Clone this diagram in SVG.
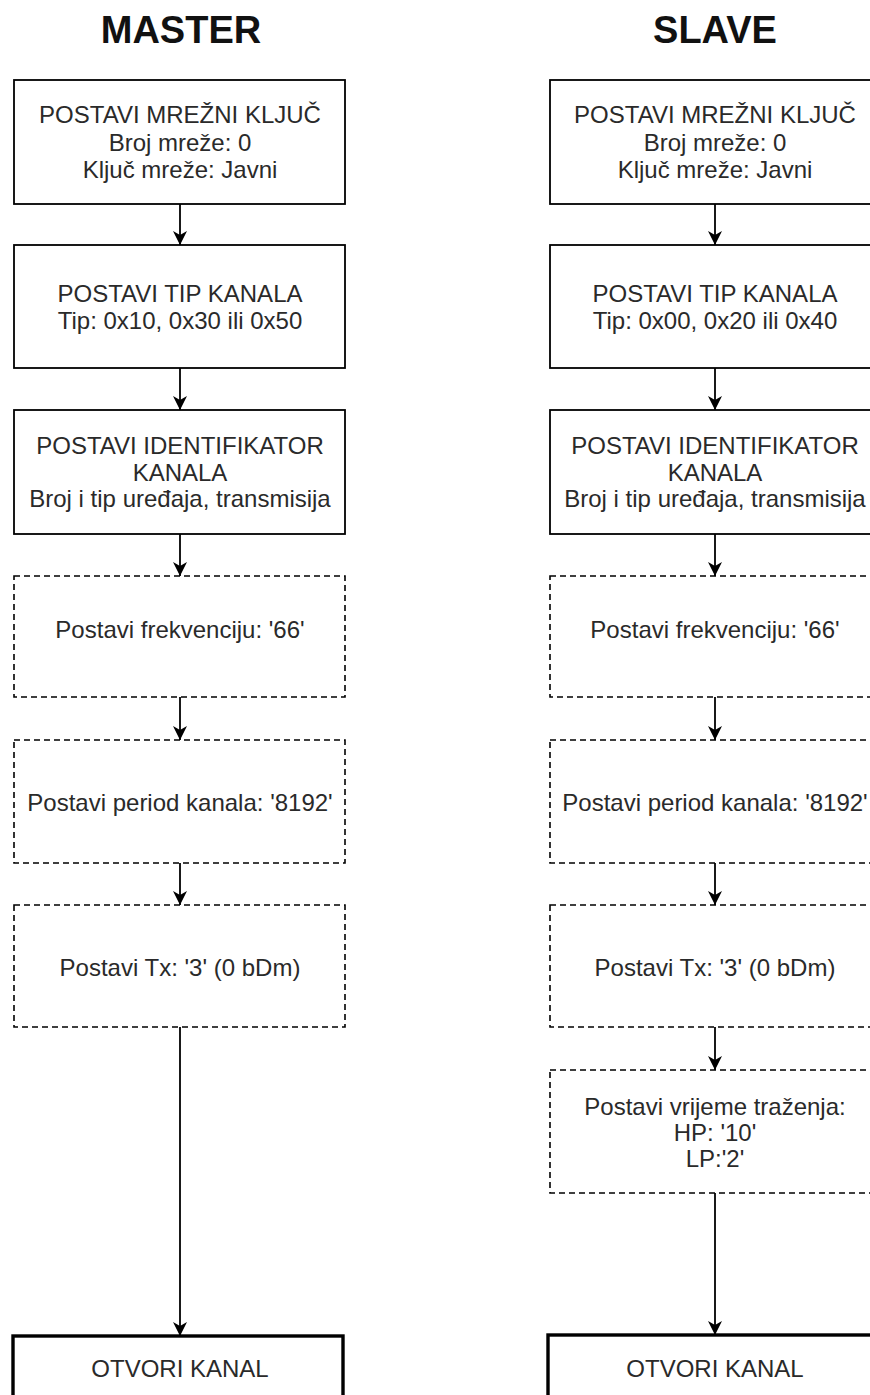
<svg xmlns="http://www.w3.org/2000/svg" width="870" height="1395" viewBox="0 0 870 1395">
<defs>
<marker id="arr" markerUnits="userSpaceOnUse" markerWidth="16" markerHeight="16" viewBox="0 -8 16 16" refX="14" refY="0" orient="auto">
<path d="M0,-7 L14,0 L0,7 L4,0 Z" fill="#000"/>
</marker>
</defs>
<style>
.title{font-family:"Liberation Sans",Arial,sans-serif;font-weight:bold;font-size:38px;fill:#111;text-anchor:middle}
.t{font-family:"Liberation Sans",Arial,sans-serif;font-size:24px;fill:#2a2a2a;text-anchor:middle}
.box{fill:#fff;stroke:#000;stroke-width:1.8}
.dash{fill:#fff;stroke:#000;stroke-width:1.6;stroke-dasharray:6 4}
.thick{fill:#fff;stroke:#000;stroke-width:3.4}
.c{fill:none;stroke:#000;stroke-width:1.8;marker-end:url(#arr)}
</style>
<rect width="870" height="1395" fill="#fff"/>
<text class="title" x="181" y="43">MASTER</text>
<text class="title" x="715" y="43">SLAVE</text>
<g id="connectors">
<line class="c" x1="180" y1="204" x2="180" y2="245"/>
<line class="c" x1="180" y1="368" x2="180" y2="410"/>
<line class="c" x1="180" y1="534" x2="180" y2="576"/>
<line class="c" x1="180" y1="697" x2="180" y2="740"/>
<line class="c" x1="180" y1="863" x2="180" y2="905"/>
<line class="c" x1="180" y1="1027" x2="180" y2="1336"/>
<line class="c" x1="715" y1="204" x2="715" y2="245"/>
<line class="c" x1="715" y1="368" x2="715" y2="410"/>
<line class="c" x1="715" y1="534" x2="715" y2="576"/>
<line class="c" x1="715" y1="697" x2="715" y2="740"/>
<line class="c" x1="715" y1="863" x2="715" y2="905"/>
<line class="c" x1="715" y1="1027" x2="715" y2="1070"/>
<line class="c" x1="715" y1="1193" x2="715" y2="1335"/>
</g>
<g id="m1"><rect class="box" x="14" y="80" width="331" height="124"/>
<text class="t" x="180" y="123">POSTAVI MREŽNI KLJUČ</text>
<text class="t" x="180" y="151">Broj mreže: 0</text>
<text class="t" x="180" y="178">Ključ mreže: Javni</text></g>
<g id="m2"><rect class="box" x="14" y="245" width="331" height="123"/>
<text class="t" x="180" y="302">POSTAVI TIP KANALA</text>
<text class="t" x="180" y="329">Tip: 0x10, 0x30 ili 0x50</text></g>
<g id="m3"><rect class="box" x="14" y="410" width="331" height="124"/>
<text class="t" x="180" y="454">POSTAVI IDENTIFIKATOR</text>
<text class="t" x="180" y="481">KANALA</text>
<text class="t" x="180" y="507">Broj i tip uređaja, transmisija</text></g>
<g id="m4"><rect class="dash" x="14" y="576" width="331" height="121"/>
<text class="t" x="180" y="638">Postavi frekvenciju: '66'</text></g>
<g id="m5"><rect class="dash" x="14" y="740" width="331" height="123"/>
<text class="t" x="180" y="811">Postavi period kanala: '8192'</text></g>
<g id="m6"><rect class="dash" x="14" y="905" width="331" height="122"/>
<text class="t" x="180" y="976">Postavi Tx: '3' (0 bDm)</text></g>
<g id="m7"><rect class="thick" x="13" y="1336" width="330" height="90"/>
<text class="t" x="180" y="1377">OTVORI KANAL</text></g>
<g id="s1"><rect class="box" x="550" y="80" width="331" height="124"/>
<text class="t" x="715" y="123">POSTAVI MREŽNI KLJUČ</text>
<text class="t" x="715" y="151">Broj mreže: 0</text>
<text class="t" x="715" y="178">Ključ mreže: Javni</text></g>
<g id="s2"><rect class="box" x="550" y="245" width="331" height="123"/>
<text class="t" x="715" y="302">POSTAVI TIP KANALA</text>
<text class="t" x="715" y="329">Tip: 0x00, 0x20 ili 0x40</text></g>
<g id="s3"><rect class="box" x="550" y="410" width="331" height="124"/>
<text class="t" x="715" y="454">POSTAVI IDENTIFIKATOR</text>
<text class="t" x="715" y="481">KANALA</text>
<text class="t" x="715" y="507">Broj i tip uređaja, transmisija</text></g>
<g id="s4"><rect class="dash" x="550" y="576" width="331" height="121"/>
<text class="t" x="715" y="638">Postavi frekvenciju: '66'</text></g>
<g id="s5"><rect class="dash" x="550" y="740" width="331" height="123"/>
<text class="t" x="715" y="811">Postavi period kanala: '8192'</text></g>
<g id="s6"><rect class="dash" x="550" y="905" width="331" height="122"/>
<text class="t" x="715" y="976">Postavi Tx: '3' (0 bDm)</text></g>
<g id="s7"><rect class="dash" x="550" y="1070" width="331" height="123"/>
<text class="t" x="715" y="1115">Postavi vrijeme traženja:</text>
<text class="t" x="715" y="1141">HP: '10'</text>
<text class="t" x="715" y="1167">LP:'2'</text></g>
<g id="s8"><rect class="thick" x="548" y="1335" width="340" height="90"/>
<text class="t" x="715" y="1377">OTVORI KANAL</text></g>
</svg>
